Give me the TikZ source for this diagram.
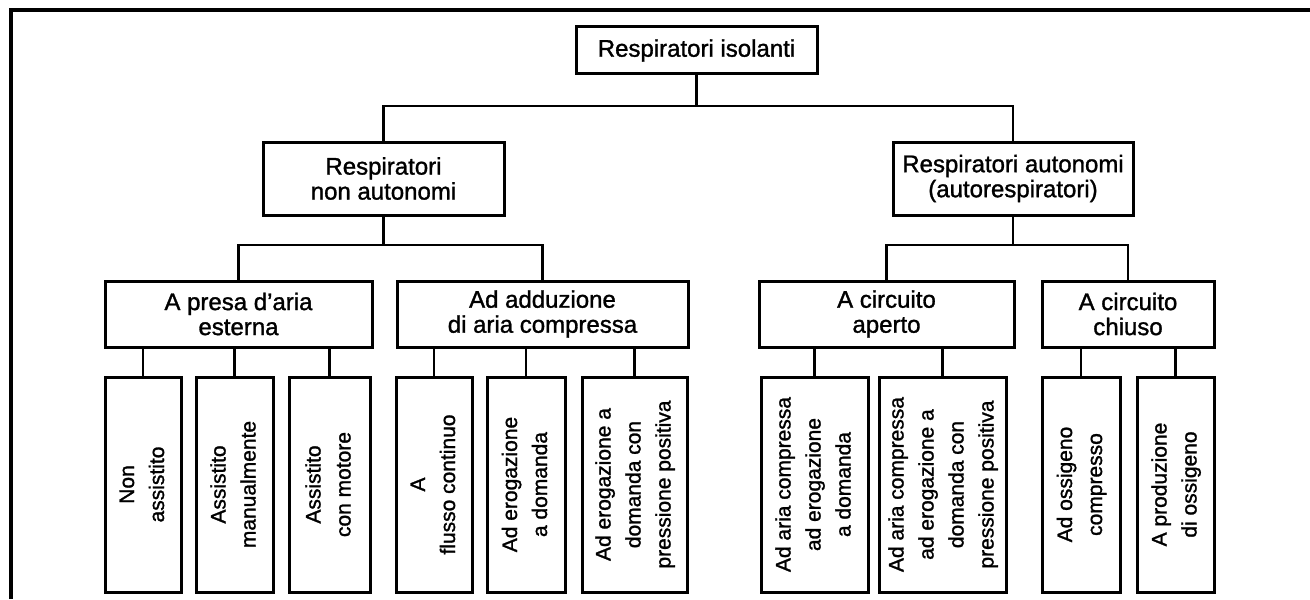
\documentclass[tikz,border=0pt]{standalone}
\usepackage{fontspec}
\setmainfont[FakeBold=1.3]{Liberation Sans}
\newcommand\rottext[1]{\rotatebox{90}{\begin{tabular}{@{}c@{}}#1\end{tabular}}}
\begin{document}
\begin{tikzpicture}[x=0.5pt,y=-0.5pt,
  wh/.style 2 args={minimum width=#1*0.5pt, minimum height=#2*0.5pt},
  box/.style={draw, line width=1.5pt, inner sep=0pt, align=center, font=\fontsize{12}{12.5}\selectfont},
  leaf/.style={draw, line width=1.5pt, inner sep=0pt, font=\fontsize{10.5}{15}\selectfont},
  conn/.style={line width=1.3pt},
  frame/.style={line width=2pt}]
\useasboundingbox (0,0) rectangle (1310,599);
% frame
\coordinate (f0) at (11,599);
\coordinate (f1) at (11,10);
\coordinate (f2) at (1310,10);
\draw[frame] (f0) -- (f1) -- (f2);
% level 1
\node[box, wh={241}{47}] (top) at (696.5,50.5) {Respiratori isolanti};
% level 2
\node[box, wh={241}{73}] (na) at (383.5,178.5) {Respiratori\\non autonomi};
\node[box, wh={240}{73}] (au) at (1013,178.5) {Respiratori autonomi\\(autorespiratori)};
% level 3
\node[box, wh={267}{66}] (pe) at (238.5,314) {A presa d'aria\\esterna};
\node[box, wh={291}{66}] (ac) at (542.5,314) {Ad adduzione\\di aria compressa};
\node[box, wh={255}{66}] (ca) at (886.5,314) {A circuito\\aperto};
\node[box, wh={172}{66}] (cc) at (1128,314) {A circuito\\chiuso};
% level 4
\node[leaf, wh={76}{215}] (l1) at (143,484.5) {\rottext{Non\\assistito}};
\node[leaf, wh={77}{215}] (l2) at (234.5,484.5) {\rottext{Assistito\\manualmente}};
\node[leaf, wh={81}{215}] (l3) at (329.5,484.5) {\rottext{Assistito\\con motore}};
\node[leaf, wh={76}{215}] (l4) at (434,484.5) {\rottext{A\\flusso continuo}};
\node[leaf, wh={78}{215}] (l5) at (526,484.5) {\rottext{Ad erogazione\\a domanda}};
\node[leaf, wh={105}{215}] (l6) at (634.5,484.5) {\rottext{Ad erogazione a\\domanda con\\pressione positiva}};
\node[leaf, wh={107}{215}] (l7) at (814.5,484.5) {\rottext{Ad aria compressa\\ad erogazione\\a domanda}};
\node[leaf, wh={127}{215}] (l8) at (942.5,484.5) {\rottext{Ad aria compressa\\ad erogazione a\\domanda con\\pressione positiva}};
\node[leaf, wh={78}{215}] (l9) at (1081,484.5) {\rottext{Ad ossigeno\\compresso}};
\node[leaf, wh={77}{215}] (l10) at (1175.5,484.5) {\rottext{A produzione\\di ossigeno}};
% connectors level 1-2
\draw[conn] (top.south) -- (top.south |- 0,106);
\draw[conn] (na.north) -- (na.north |- 0,106) -- (au.north |- 0,106) -- (au.north);
% connectors level 2-3
\draw[conn] (na.south) -- (na.south |- 0,245);
\draw[conn] (pe.north) -- (pe.north |- 0,245) -- (ac.north |- 0,245) -- (ac.north);
\draw[conn] (au.south) -- (au.south |- 0,245);
\draw[conn] (ca.north) -- (ca.north |- 0,245) -- (cc.north |- 0,245) -- (cc.north);
% connectors level 3-4
\foreach \leafnode/\parent in {l1/pe,l2/pe,l3/pe,l4/ac,l5/ac,l6/ac,l7/ca,l8/ca,l9/cc,l10/cc}
  \draw[conn] (\leafnode.north) -- (\leafnode.north |- \parent.south);
\end{tikzpicture}
\end{document}
